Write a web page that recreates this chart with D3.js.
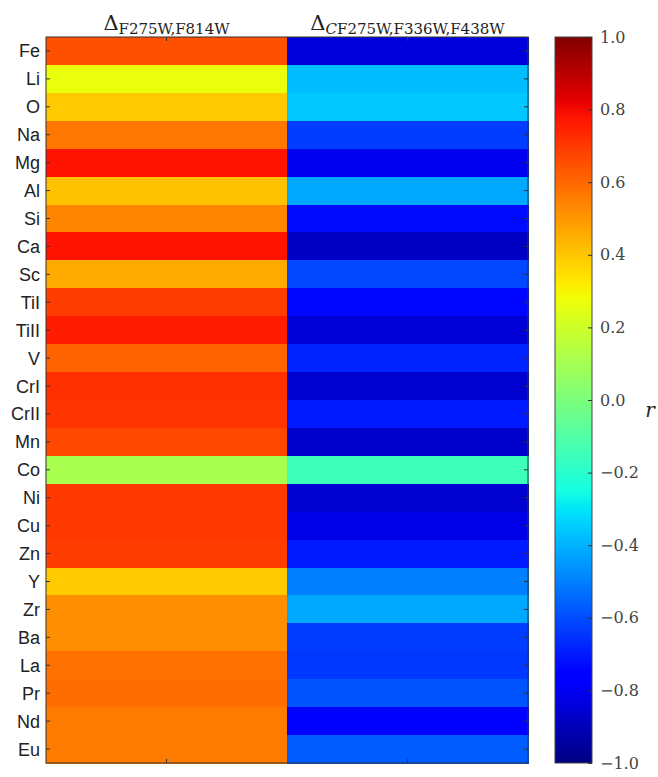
<!DOCTYPE html>
<html>
<head>
<meta charset="utf-8">
<script src="https://cdn.jsdelivr.net/npm/d3@7"></script>
<style>
  html, body { margin: 0; padding: 0; background: #fff; }
  svg { display: block; }
</style>
</head>
<body>
<svg id="chart" width="658" height="777"></svg>
<script>
// Elements (rows, top to bottom)
const elements = ["Fe","Li","O","Na","Mg","Al","Si","Ca","Sc","TiI","TiII","V","CrI","CrII","Mn","Co","Ni","Cu","Zn","Y","Zr","Ba","La","Pr","Nd","Eu"];

// Correlation coefficient r with Δ F275W,F814W
const rF275F814 = [0.65,0.27,0.39,0.57,0.78,0.41,0.54,0.78,0.46,0.69,0.76,0.61,0.72,0.71,0.67,0.11,0.70,0.70,0.69,0.39,0.52,0.52,0.58,0.59,0.56,0.56];

// Correlation coefficient r with Δ C F275W,F336W,F438W
const rCF275F336F438 = [-0.84,-0.38,-0.36,-0.63,-0.81,-0.42,-0.73,-0.88,-0.61,-0.74,-0.85,-0.68,-0.86,-0.70,-0.87,-0.15,-0.86,-0.82,-0.70,-0.50,-0.42,-0.63,-0.64,-0.59,-0.76,-0.57];

const colorbarTicks = [-1.0,-0.8,-0.6,-0.4,-0.2,0.0,0.2,0.4,0.6,0.8,1.0];

// jet colormap (segment data)
const jetR = d3.scaleLinear().domain([0,0.35,0.66,0.89,1]).range([0,0,1,1,0.5]).clamp(true);
const jetG = d3.scaleLinear().domain([0,0.125,0.375,0.64,0.91,1]).range([0,0,1,1,0,0]).clamp(true);
const jetB = d3.scaleLinear().domain([0,0.11,0.34,0.65,1]).range([0.5,1,1,0,0]).clamp(true);
const norm = d3.scaleLinear().domain([-1,1]).range([0,1]).clamp(true);
function jet(v) {
  const t = norm(v);
  return d3.rgb(jetR(t)*255, jetG(t)*255, jetB(t)*255).formatHex();
}

const svg = d3.select("#chart");

// Heatmap geometry
const hm = {left: 46, right: 528, top: 37, bottom: 763};
const columns = [
  {key: "a", values: rF275F814},
  {key: "b", values: rCF275F336F438}
];

const x = d3.scaleBand().domain(columns.map(c => c.key)).range([hm.left, hm.right]).padding(0);
const y = d3.scaleBand().domain(elements).range([hm.top, hm.bottom]).padding(0);

const cells = [];
columns.forEach(c => c.values.forEach((v, i) => cells.push({col: c.key, row: elements[i], v})));

svg.append("g").selectAll("rect").data(cells).join("rect")
  .attr("x", d => x(d.col))
  .attr("y", d => y(d.row))
  .attr("width", x.bandwidth() + 0.5)
  .attr("height", y.bandwidth() + 0.5)
  .attr("fill", d => jet(d.v))
  .attr("shape-rendering", "crispEdges");

// Frame
svg.append("rect")
  .attr("x", hm.left).attr("y", hm.top)
  .attr("width", hm.right - hm.left).attr("height", hm.bottom - hm.top)
  .attr("fill", "none").attr("stroke", "#333").attr("stroke-width", 1);

// Inward ticks on all four sides
const tickLen = 4;
const tickG = svg.append("g").attr("stroke", "#333").attr("stroke-width", 1);
elements.forEach(e => {
  const cy = y(e) + y.bandwidth()/2;
  tickG.append("line").attr("x1", hm.left).attr("x2", hm.left + tickLen).attr("y1", cy).attr("y2", cy);
  tickG.append("line").attr("x1", hm.right).attr("x2", hm.right - tickLen).attr("y1", cy).attr("y2", cy);
});
columns.forEach(c => {
  const cx = x(c.key) + x.bandwidth()/2;
  tickG.append("line").attr("x1", cx).attr("x2", cx).attr("y1", hm.top).attr("y2", hm.top + tickLen);
  tickG.append("line").attr("x1", cx).attr("x2", cx).attr("y1", hm.bottom).attr("y2", hm.bottom - tickLen);
});

// Row labels
svg.append("g").selectAll("text").data(elements).join("text")
  .attr("x", hm.left - 6)
  .attr("y", d => y(d) + y.bandwidth()/2)
  .attr("dy", "0.36em")
  .attr("text-anchor", "end")
  .attr("font-family", "'Liberation Sans', Arial, sans-serif")
  .attr("font-size", 18)
  .attr("fill", "#222")
  .text(d => d);

// Column titles
const serif = "'DejaVu Serif', 'Liberation Serif', serif";
function colTitle(key, parts) {
  const t = svg.append("text")
    .attr("x", x(key) + x.bandwidth()/2)
    .attr("y", 30)
    .attr("text-anchor", "middle")
    .attr("font-family", serif)
    .attr("fill", "#222");
  t.append("tspan").attr("font-size", 21).text("Δ");
  parts.forEach((p, i) => {
    const s = t.append("tspan").attr("font-size", 15).text(p.text);
    if (i === 0) s.attr("dy", 4);
    if (p.italic) s.attr("font-style", "italic");
  });
}
colTitle("a", [{text: "F275W,F814W"}]);
colTitle("b", [{text: "C", italic: true}, {text: "F275W,F336W,F438W"}]);

// Colorbar
const cb = {left: 555, right: 592, top: 37, bottom: 763};
const cbScale = d3.scaleLinear().domain([-1, 1]).range([cb.bottom, cb.top]);

const defs = svg.append("defs");
const grad = defs.append("linearGradient").attr("id", "jetGrad")
  .attr("x1", 0).attr("x2", 0).attr("y1", 1).attr("y2", 0);
d3.range(0, 1.0001, 1/128).forEach(t => {
  grad.append("stop").attr("offset", t).attr("stop-color", jet(-1 + 2*t));
});
svg.append("rect")
  .attr("x", cb.left).attr("y", cb.top)
  .attr("width", cb.right - cb.left).attr("height", cb.bottom - cb.top)
  .attr("fill", "url(#jetGrad)")
  .attr("stroke", "#444").attr("stroke-width", 1);

const cbAxis = d3.axisRight(cbScale)
  .tickValues(colorbarTicks)
  .tickSize(-4)
  .tickPadding(8)
  .tickFormat(d => d3.format(".1f")(d).replace("-", "\u2212"));
const cbG = svg.append("g").attr("transform", `translate(${cb.right},0)`).call(cbAxis);
cbG.select(".domain").remove();
cbG.selectAll(".tick line").attr("stroke", "#333");
cbG.selectAll(".tick text")
  .attr("font-family", serif)
  .attr("font-size", 16)
  .attr("fill", "#444");

// Colorbar label
svg.append("text")
  .attr("x", 650)
  .attr("y", 417)
  .attr("text-anchor", "middle")
  .attr("font-family", serif)
  .attr("font-style", "italic")
  .attr("font-size", 20)
  .attr("fill", "#222")
  .text("r");
</script>
</body>
</html>
